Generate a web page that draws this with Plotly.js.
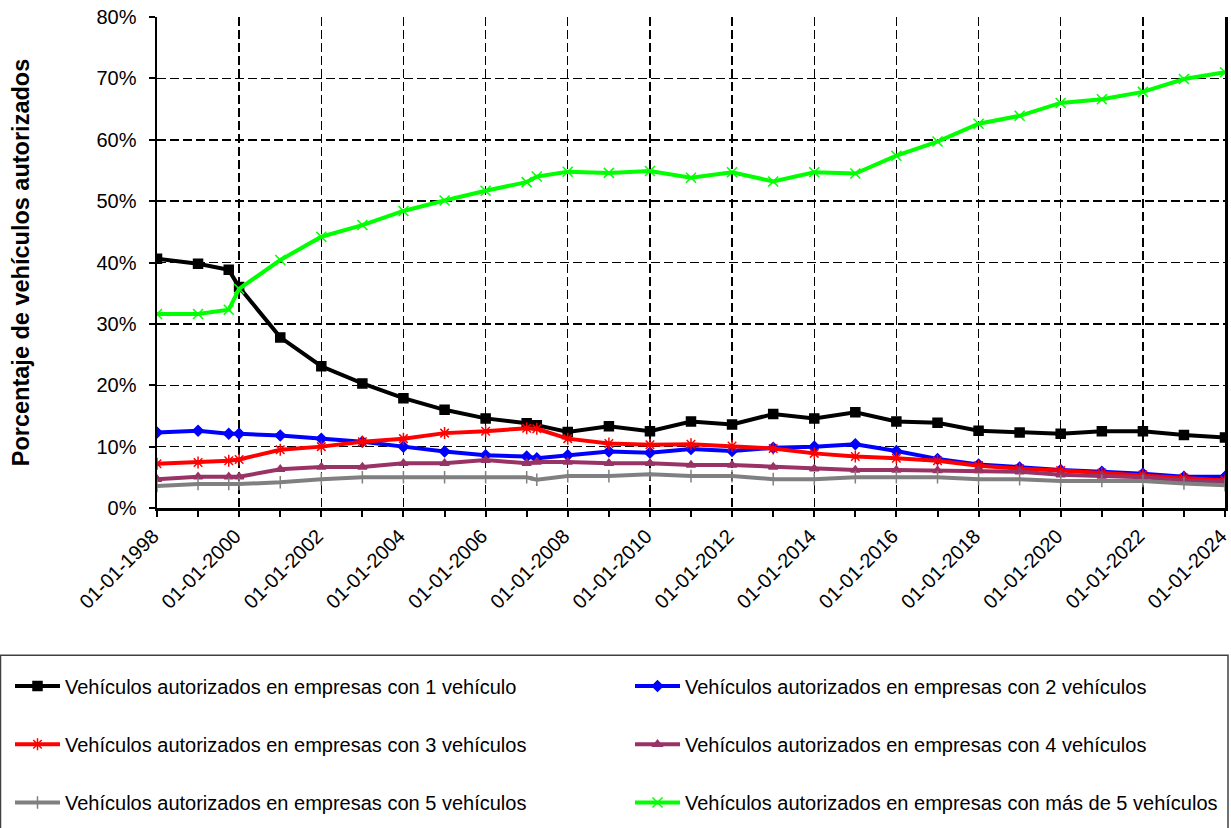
<!DOCTYPE html>
<html>
<head>
<meta charset="utf-8">
<script src="https://cdn.plot.ly/plotly-3.0.1.min.js"></script>
<style>html,body{margin:0;padding:0;background:#fff;}#chart{width:1231px;height:828px;}</style>
</head>
<body>
<div id="chart"></div>
<script>
const dates = ['1998-01-01','1999-01-01','1999-10-01','2000-01-01','2001-01-01','2002-01-01','2003-01-01','2004-01-01','2005-01-01','2006-01-01','2007-01-01','2007-04-01','2008-01-01','2009-01-01','2010-01-01','2011-01-01','2012-01-01','2013-01-01','2014-01-01','2015-01-01','2016-01-01','2017-01-01','2018-01-01','2019-01-01','2020-01-01','2021-01-01','2022-01-01','2023-01-01','2024-01-01'];

const names = [
  'Vehículos autorizados en empresas con 1 vehículo',
  'Vehículos autorizados en empresas con 2 vehículos',
  'Vehículos autorizados en empresas con 3 vehículos',
  'Vehículos autorizados en empresas con 4 vehículos',
  'Vehículos autorizados en empresas con 5 vehículos',
  'Vehículos autorizados en empresas con más de 5 vehículos'
];

const empresas1 = [40.6,39.8,38.8,36.0,27.8,23.1,20.3,17.9,16.0,14.6,13.8,13.5,12.4,13.3,12.5,14.1,13.6,15.3,14.6,15.6,14.1,13.9,12.6,12.3,12.1,12.5,12.5,11.9,11.5];
const empresas2 = [12.3,12.6,12.1,12.1,11.8,11.3,10.8,10.0,9.2,8.6,8.4,8.1,8.6,9.2,9.0,9.6,9.3,9.8,10.0,10.4,9.3,8.0,7.1,6.6,6.2,5.9,5.6,5.1,5.1];
const empresas3 = [7.2,7.4,7.7,7.9,9.5,10.0,10.8,11.3,12.2,12.5,13.0,12.9,11.3,10.5,10.3,10.4,10.1,9.7,8.9,8.4,8.1,7.7,6.9,6.4,6.1,5.7,5.4,4.9,4.5];
const empresas4 = [4.7,5.1,5.1,5.1,6.3,6.7,6.7,7.3,7.3,7.8,7.3,7.5,7.5,7.3,7.3,7.0,7.0,6.7,6.4,6.2,6.2,6.1,6.1,5.9,5.4,5.2,5.0,4.5,4.3];
const empresas5 = [3.6,3.9,3.9,3.9,4.2,4.7,5.0,5.0,5.0,5.0,5.0,4.6,5.2,5.2,5.5,5.2,5.2,4.7,4.7,5.0,5.0,5.0,4.7,4.7,4.4,4.4,4.4,4.0,3.7];
const empresasMas5 = [31.6,31.6,32.3,35.7,40.4,44.2,46.1,48.4,50.1,51.7,53.1,54.0,54.8,54.6,54.9,53.8,54.7,53.2,54.7,54.5,57.4,59.7,62.6,63.9,66.0,66.6,67.8,69.9,71.0];

const yTicks = [0,10,20,30,40,50,60,70,80];
const yTickText = ['0%','10%','20%','30%','40%','50%','60%','70%','80%'];

const series = [empresas1, empresas2, empresas3, empresas4, empresas5, empresasMas5];
const colors = ['#000000','#0000FF','#FF0000','#993366','#808080','#00FF00'];
const symbols = ['square','diamond','asterisk-open','triangle-up','cross-thin-open','x-thin-open'];
const msizes = [9,8,10,8,9,10];
const legendIds = ['legend','legend2','legend3','legend4','legend5','legend6'];

const traces = series.map((s,i)=>({
  x: dates, y: s, type:'scatter', mode:'lines+markers', name: names[i],
  legend: legendIds[i],
  line:{color:colors[i], width:4},
  marker:{symbol:symbols[i], size:msizes[i], color:colors[i], line:{color:colors[i], width:1.5}}
}));

const FONT = 'Liberation Sans, Arial, sans-serif';
const L = 157, R = 1225, T = 17, B = 508.5;
const pw = R - L, ph = B - T;
const px2x = p => (p - L)/pw;
const px2y = p => (B - p)/ph;

const legendBase = {
  orientation:'h', xanchor:'left', yanchor:'middle',
  font:{family:FONT, size:20, color:'#000'}, bgcolor:'rgba(0,0,0,0)', itemwidth:45
};
const colX = [px2x(10), px2x(630)];
const rowY = [px2y(686.7), px2y(745), px2y(803.3)];
const mkLegend = (c, r) => Object.assign({}, legendBase, {x: colX[c], y: rowY[r]});

const layout = {
  width:1231, height:828,
  margin:{l:L, r:1231-R, t:T, b:828-B, pad:0},
  paper_bgcolor:'#fff', plot_bgcolor:'#fff',
  font:{family:FONT, size:20, color:'#000'},
  xaxis:{
    type:'date', range:['1998-01-01','2024-01-01'],
    tickmode:'linear', tick0:'1998-01-01', dtick:'M24', tickformat:'%d-%m-%Y', tickangle:-45,
    ticks:'outside', ticklen:6, tickwidth:2, tickcolor:'#000', ticklabeloverflow:'allow', ticklabelshift:-4,
    minor:{tickmode:'linear', dtick:'M12', tick0:'1998-01-01', ticks:'outside', ticklen:6, tickwidth:2, tickcolor:'#000', showgrid:false},
    showline:true, linecolor:'#000', linewidth:2.5,
    showgrid:true, gridcolor:'#000', gridwidth:1.5, griddash:'9px,4px',
    tickfont:{family:FONT, size:20, color:'#000'}, zeroline:false, automargin:false
  },
  yaxis:{
    range:[0,80], tickmode:'array', tickvals:yTicks, ticktext:yTickText,
    ticks:'outside', ticklen:6, tickwidth:2, tickcolor:'#000', ticklabelstandoff:8,
    showline:true, mirror:true, linecolor:'#000', linewidth:2.5,
    showgrid:true, gridcolor:'#000', gridwidth:1.5, griddash:'9px,4px',
    tickfont:{family:FONT, size:20, color:'#000'}, zeroline:false, automargin:false,
    title:{text:'Porcentaje de vehículos autorizados', font:{family:FONT, size:23.5, color:'#000', weight:'bold'}, standoff:60}
  },
  showlegend:true,
  legend: mkLegend(0,0),
  legend2: mkLegend(1,0),
  legend3: mkLegend(0,1),
  legend4: mkLegend(1,1),
  legend5: mkLegend(0,2),
  legend6: mkLegend(1,2),
  shapes:[{type:'rect', xref:'paper', yref:'paper', x0:px2x(0.5), x1:px2x(1228), y0:px2y(656), y1:px2y(860), line:{color:'#404040', width:1.5}, fillcolor:'rgba(0,0,0,0)'}]
};

Plotly.newPlot('chart', traces, layout, {displayModeBar:false, staticPlot:true});
</script>
</body>
</html>
